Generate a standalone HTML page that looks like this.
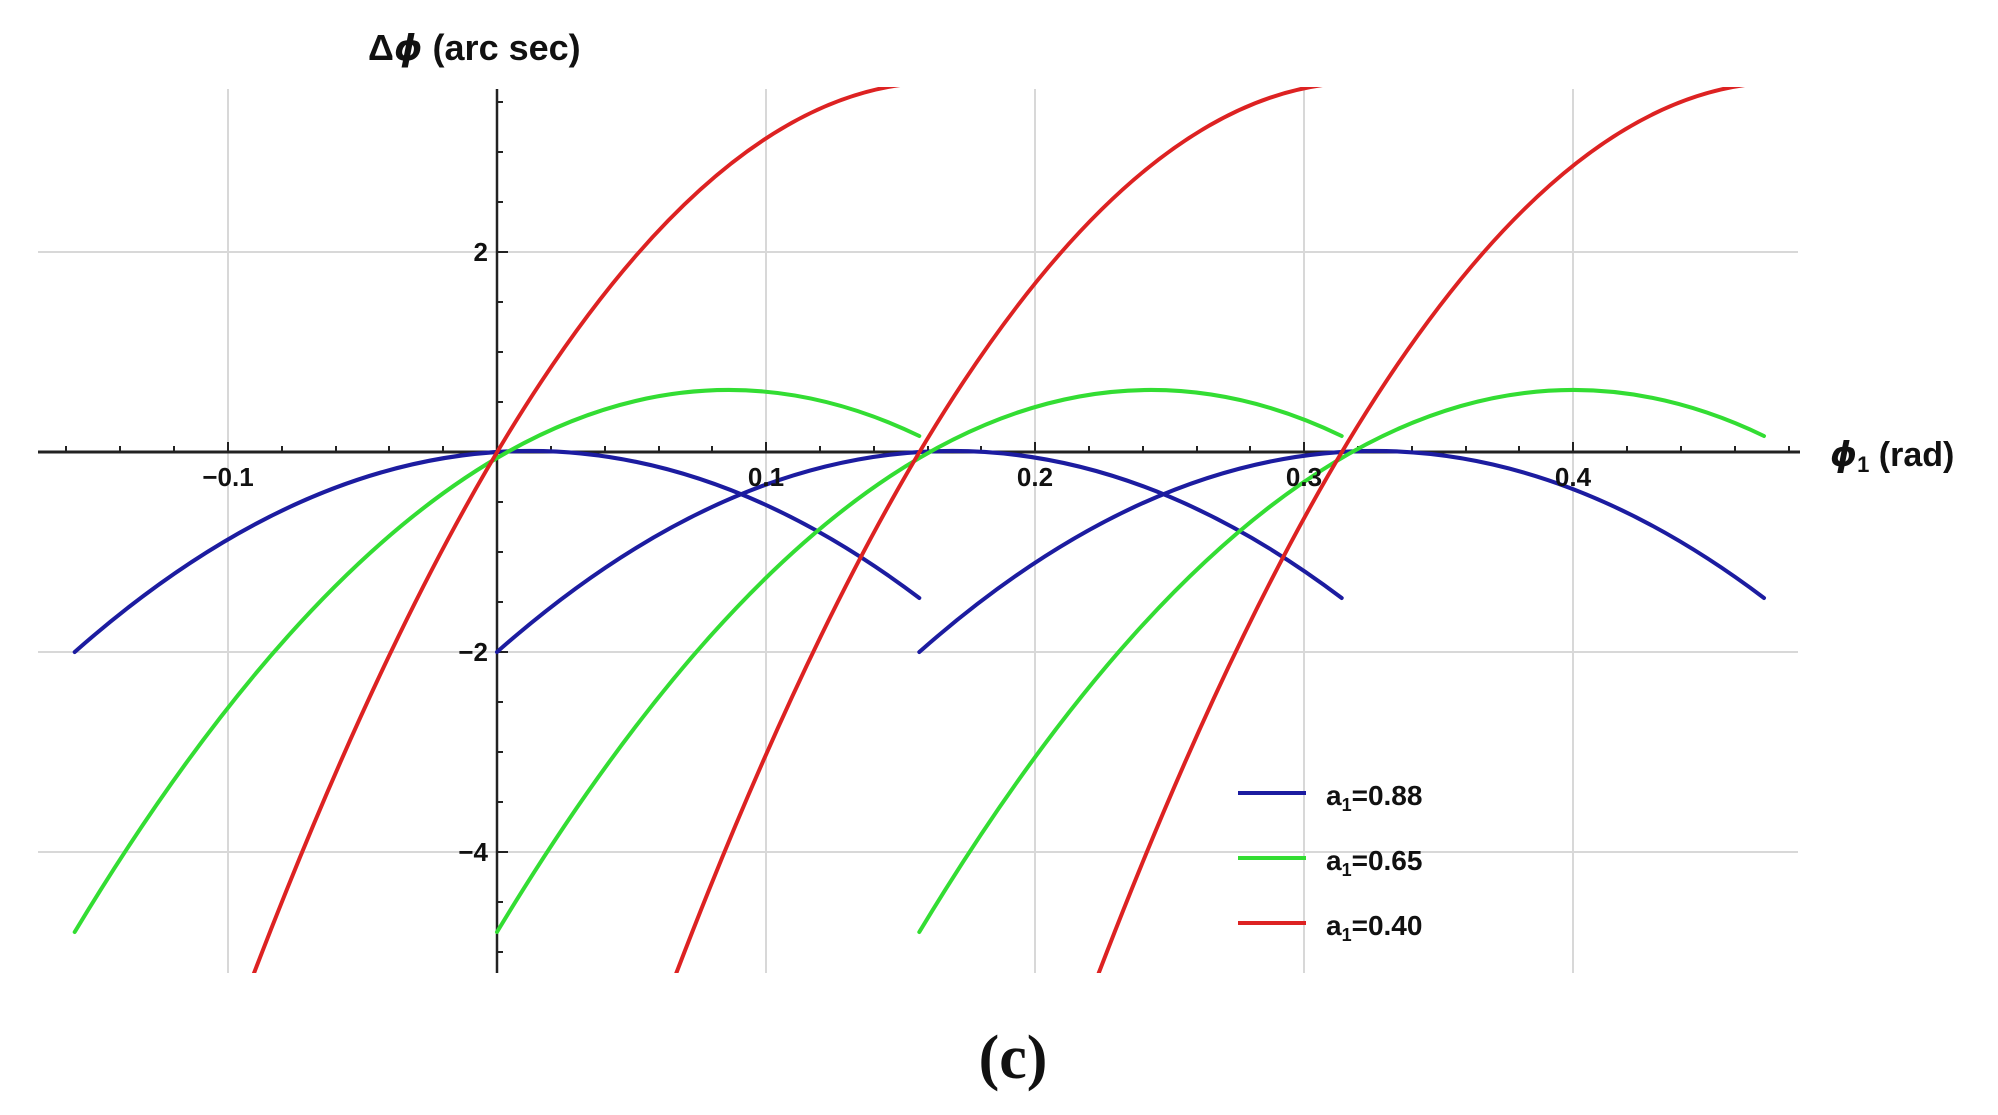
<!DOCTYPE html>
<html><head><meta charset="utf-8"><style>
html,body{margin:0;padding:0;background:#fff;width:1998px;height:1115px;overflow:hidden;}
svg{display:block;}
text{font-family:"Liberation Sans",sans-serif;font-weight:bold;fill:#111;}
</style></head><body>
<svg width="1998" height="1115" viewBox="0 0 1998 1115" xmlns="http://www.w3.org/2000/svg" overflow="hidden">
<defs><clipPath id="c"><rect x="38" y="87" width="1760" height="886"/></clipPath></defs>
<g stroke="#d8d8d8" stroke-width="2">
<line x1="228" y1="89" x2="228" y2="973"/>
<line x1="766" y1="89" x2="766" y2="973"/>
<line x1="1035" y1="89" x2="1035" y2="973"/>
<line x1="1304" y1="89" x2="1304" y2="973"/>
<line x1="1573" y1="89" x2="1573" y2="973"/>
<line x1="38" y1="252" x2="1798" y2="252"/>
<line x1="38" y1="652" x2="1798" y2="652"/>
<line x1="38" y1="852" x2="1798" y2="852"/>
</g>
<g stroke="#222" stroke-width="3">
<line x1="38" y1="452" x2="1800" y2="452"/>
<line x1="497" y1="89" x2="497" y2="973" stroke-width="2.5"/>
</g>
<g stroke="#222" stroke-width="2">
<path d="M66,452v-6M120,452v-6M174,452v-6M228,452v-10M282,452v-6M336,452v-6M389,452v-6M443,452v-6M551,452v-6M605,452v-6M659,452v-6M712,452v-6M766,452v-10M820,452v-6M874,452v-6M928,452v-6M981,452v-6M1035,452v-10M1089,452v-6M1143,452v-6M1197,452v-6M1250,452v-6M1304,452v-10M1358,452v-6M1412,452v-6M1466,452v-6M1519,452v-6M1573,452v-10M1627,452v-6M1681,452v-6M1735,452v-6M1789,452v-6"/>
<path d="M497,102h6M497,152h6M497,202h6M497,252h11M497,302h6M497,352h6M497,402h6M497,502h6M497,552h6M497,602h6M497,652h11M497,702h6M497,752h6M497,802h6M497,852h11M497,902h6M497,952h6"/>
</g>
<g clip-path="url(#c)" fill="none" stroke-width="4" stroke-linecap="round">
<g stroke="#1c1ca0">
<path d="M74.7,652 Q497,279 919.3,598"/>
<path d="M497,652 Q919.3,279 1341.7,598"/>
<path d="M919.3,652 Q1341.7,279 1764,598"/>
</g>
<g stroke="#33dd33">
<path d="M74.7,932 Q497,232 919.3,436"/>
<path d="M497,932 Q919.3,232 1341.7,436"/>
<path d="M919.3,932 Q1341.7,232 1764,436"/>
</g>
<g stroke="#dd2222">
<path d="M250.6,982 Q585,106 919.3,83"/>
<path d="M672.9,982 Q1007.3,106 1341.7,83"/>
<path d="M1095.3,982 Q1429.7,106 1764,83"/>
</g>
</g>
<g font-size="26" text-anchor="middle">
<text x="228" y="486">−0.1</text>
<text x="766" y="486">0.1</text>
<text x="1035" y="486">0.2</text>
<text x="1304" y="486">0.3</text>
<text x="1573" y="486">0.4</text>
</g>
<g font-size="26" text-anchor="end">
<text x="488" y="261">2</text>
<text x="488" y="661">−2</text>
<text x="488" y="861">−4</text>
</g>
<text x="368" y="60" font-size="36">Δ<tspan font-style="italic" font-family="DejaVu Sans">ϕ</tspan> (arc sec)</text>
<text x="1830" y="466" font-size="34"><tspan font-style="italic" font-family="DejaVu Sans">ϕ</tspan><tspan font-size="22" dy="6">1</tspan><tspan dy="-6"> (rad)</tspan></text>
<g stroke-width="4">
<line x1="1238" y1="793" x2="1306" y2="793" stroke="#1c1ca0"/>
<line x1="1238" y1="858" x2="1306" y2="858" stroke="#33dd33"/>
<line x1="1238" y1="923" x2="1306" y2="923" stroke="#dd2222"/>
</g>
<g font-size="28">
<text x="1326" y="805">a<tspan font-size="18" dy="6">1</tspan><tspan dy="-6">=0.88</tspan></text>
<text x="1326" y="870">a<tspan font-size="18" dy="6">1</tspan><tspan dy="-6">=0.65</tspan></text>
<text x="1326" y="935">a<tspan font-size="18" dy="6">1</tspan><tspan dy="-6">=0.40</tspan></text>
</g>
<text x="1013" y="1078" font-size="62" text-anchor="middle" style="font-family:'Liberation Serif',serif">(c)</text>
</svg>
</body></html>
